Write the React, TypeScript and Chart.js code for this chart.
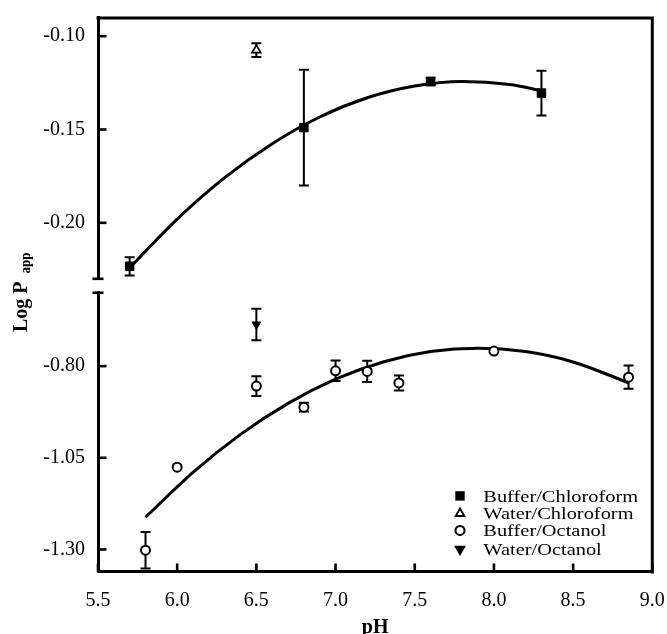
import React, { useEffect, useRef } from 'react';
import { Chart, registerables } from 'chart.js';

Chart.register(...registerables);

// ---------- data ----------
const X_TICKS = [5.5, 6.0, 6.5, 7.0, 7.5, 8.0, 8.5, 9.0];
const TOP_TICKS = [-0.2, -0.15, -0.1];
const BOT_TICKS = [-1.3, -1.05, -0.8];
const X_RANGE = [5.5, 9.0];
const TOP_RANGE = [-0.23, -0.09];
const BOT_RANGE = [-1.36, -0.6];

const LEGEND_LABELS = ['Buffer/Chloroform', 'Water/Chloroform', 'Buffer/Octanol', 'Water/Octanol'];

const BC_PH = [5.7, 6.8, 7.6, 8.3];
const BC_LOGP = [-0.2233, -0.149, -0.1243, -0.1305];
const BC_ERR = [0.0049, 0.031, 0.002, 0.012];

const WC_PH = [6.5];
const WC_LOGP = [-0.1075];
const WC_ERR = [0.0037];

const BO_PH = [5.8, 6.0, 6.5, 6.8, 7.0, 7.2, 7.4, 8.0, 8.85];
const BO_LOGP = [-1.302, -1.0756, -0.8545, -0.912, -0.8127, -0.8145, -0.8459, -0.759, -0.83];
const BO_ERR = [0.05, 0, 0.027, 0.012, 0.028, 0.029, 0.0205, 0, 0.032];

const WO_PH = [6.5];
const WO_LOGP = [-0.6864];
const WO_ERR = [0.0427];

const TOP_FIT_PH = [5.7, 6.0, 6.3, 6.6, 6.9, 7.2, 7.5, 7.8, 8.1, 8.3];
const TOP_FIT_LOGP = [-0.2241, -0.198, -0.1758, -0.1576, -0.1433, -0.133, -0.1267, -0.1243, -0.1259, -0.1292];

const BOT_FIT_PH = [5.8, 6.1, 6.4, 6.7, 7.0, 7.3, 7.6, 7.9, 8.2, 8.5, 8.85];
const BOT_FIT_LOGP = [-1.212, -1.0896, -0.9861, -0.9015, -0.8356, -0.7886, -0.7604, -0.751, -0.7604, -0.7886, -0.8453];

// ---------- style / layout constants ----------
const FONT = "'Liberation Serif', 'Times New Roman', Times, serif";
const W = 667;
const H = 634;
const TOP_FRAC = 0.4717; // top panel share of plot height
const BOT_START_FRAC = 0.4969; // where bottom panel starts
const Y_TICK_LEN = 8.5;
const X_TICK_LEN = 8;

const pts = (xs: number[], ys: number[]) => xs.map((x, i) => ({ x, y: ys[i] }));

function drawMarker(ctx: CanvasRenderingContext2D, kind: string, x: number, y: number) {
  ctx.save();
  ctx.strokeStyle = '#000';
  ctx.fillStyle = '#000';
  ctx.lineWidth = 1.8;
  const r = 5;
  const s = Math.sin((2 * Math.PI) / 3) * r;
  ctx.beginPath();
  if (kind === 'square') {
    ctx.rect(x - 4.7, y - 4.7, 9.4, 9.4);
    ctx.fill();
  } else if (kind === 'triUp') {
    ctx.moveTo(x, y - r);
    ctx.lineTo(x + s, y + r / 2);
    ctx.lineTo(x - s, y + r / 2);
    ctx.closePath();
    ctx.fillStyle = '#fff';
    ctx.fill();
    ctx.stroke();
  } else if (kind === 'circle') {
    ctx.arc(x, y, 4.5, 0, Math.PI * 2);
    ctx.fillStyle = '#fff';
    ctx.fill();
    ctx.lineWidth = 2;
    ctx.stroke();
  } else if (kind === 'triDown') {
    ctx.moveTo(x, y + r);
    ctx.lineTo(x + s, y - r / 2);
    ctx.lineTo(x - s, y - r / 2);
    ctx.closePath();
    ctx.fill();
    ctx.stroke();
  }
  ctx.restore();
}

const zeroPadding = (s: any) => {
  s.paddingTop = 0;
  s.paddingBottom = 0;
  s.paddingLeft = 0;
  s.paddingRight = 0;
};

function drawTickMarks(chart: any) {
  const ctx: CanvasRenderingContext2D = chart.ctx;
  const ca = chart.chartArea;
  const xs = chart.scales.x;
  const t = chart.scales.yTop;
  const b = chart.scales.yBot;
  ctx.save();
  ctx.fillStyle = '#000';
  for (const v of TOP_TICKS) {
    const y = t.getPixelForValue(v);
    ctx.fillRect(ca.left, y - 1.3, Y_TICK_LEN, 2.6);
  }
  for (const v of BOT_TICKS) {
    const y = b.getPixelForValue(v);
    ctx.fillRect(ca.left, y - 1.3, Y_TICK_LEN, 2.6);
  }
  for (const v of X_TICKS) {
    const x = xs.getPixelForValue(v);
    ctx.fillRect(x - 1.3, ca.bottom - X_TICK_LEN, 2.6, X_TICK_LEN);
  }
  // axis-break marks
  ctx.fillRect(ca.left - 5.5, t.bottom - 1.3, 11, 2.6);
  ctx.fillRect(ca.left - 5.5, b.top - 1.3, 11, 2.6);
  ctx.restore();
}

const brokenAxisPlugin = {
  id: 'brokenAxis',
  afterLayout(chart: any) {
    const ca = chart.chartArea;
    const h = ca.bottom - ca.top;
    const t = chart.scales.yTop;
    const b = chart.scales.yBot;
    t.top = ca.top;
    t.bottom = ca.top + h * TOP_FRAC;
    t.height = t.bottom - t.top;
    b.top = ca.top + h * BOT_START_FRAC;
    b.bottom = ca.bottom;
    b.height = b.bottom - b.top;
    [t, b].forEach((s: any) => {
      s.configure();
      s._gridLineItems = null;
      s._labelItems = null;
    });
  },
  beforeDatasetsDraw(chart: any) {
    const ctx: CanvasRenderingContext2D = chart.ctx;
    const ca = chart.chartArea;
    const xs = chart.scales.x;
    chart.data.datasets.forEach((ds: any) => {
      if (!ds.errorBars) return;
      const ys = chart.scales[ds.yAxisID];
      ctx.save();
      ctx.beginPath();
      ctx.rect(ca.left, ys.top, ca.right - ca.left, ys.bottom - ys.top);
      ctx.clip();
      ctx.strokeStyle = '#000';
      ctx.lineWidth = 2;
      ds.data.forEach((p: any, j: number) => {
        const e = ds.errorBars[j];
        if (!e) return;
        const x = xs.getPixelForValue(p.x);
        const y1 = ys.getPixelForValue(p.y + e);
        const y2 = ys.getPixelForValue(p.y - e);
        ctx.beginPath();
        ctx.moveTo(x, y1);
        ctx.lineTo(x, y2);
        ctx.moveTo(x - 5, y1);
        ctx.lineTo(x + 5, y1);
        ctx.moveTo(x - 5, y2);
        ctx.lineTo(x + 5, y2);
        ctx.stroke();
      });
      ctx.restore();
    });
  },
  afterDraw(chart: any) {
    const ctx: CanvasRenderingContext2D = chart.ctx;
    const ca = chart.chartArea;

    // frame top & right
    ctx.save();
    ctx.strokeStyle = '#000';
    ctx.lineWidth = 3;
    ctx.beginPath();
    ctx.moveTo(ca.left - 1.5, ca.top + 0.5);
    ctx.lineTo(ca.right, ca.top + 0.5);
    ctx.moveTo(ca.right, ca.top - 1);
    ctx.lineTo(ca.right, ca.bottom + 2);
    ctx.stroke();
    ctx.restore();

    drawTickMarks(chart);

    // axis titles
    ctx.save();
    ctx.fillStyle = '#000';
    ctx.textBaseline = 'alphabetic';
    ctx.font = `bold 20px ${FONT}`;
    ctx.textAlign = 'center';
    ctx.fillText('pH', (ca.left + ca.right) / 2, 633);
    ctx.translate(27.3, 332);
    ctx.rotate(-Math.PI / 2);
    ctx.scale(1, 1.1);
    ctx.textAlign = 'left';
    ctx.font = `bold 20px ${FONT}`;
    ctx.fillText('Log P', 0, 0);
    const w = ctx.measureText('Log P').width;
    ctx.font = `bold 13px ${FONT}`;
    ctx.fillText('app', w + 8, 2.7);
    ctx.restore();

    // legend
    const kinds = ['square', 'triUp', 'circle', 'triDown'];
    const baselines = [501.7, 519.3, 536.2, 555];
    LEGEND_LABELS.forEach((label, i) => {
      drawMarker(ctx, kinds[i], 460, baselines[i] - 5.8);
      ctx.save();
      ctx.fillStyle = '#000';
      ctx.translate(483.3, baselines[i]);
      ctx.scale(1.16, 1);
      ctx.font = `17.6px ${FONT}`;
      ctx.textAlign = 'left';
      ctx.textBaseline = 'alphabetic';
      ctx.fillText(label, 0, 0);
      ctx.restore();
    });
  },
};

const tickFont = { family: FONT, size: 20 };

function yScale(range: number[], ticks: number[]) {
  return {
    type: 'linear',
    position: 'left',
    stack: 'y',
    stackWeight: 1,
    min: range[0],
    max: range[1],
    afterBuildTicks: (s: any) => {
      s.ticks = ticks.map((v) => ({ value: v }));
    },
    afterFit: (s: any) => {
      s.width = 98;
      zeroPadding(s);
    },
    ticks: {
      callback: (v: any) => Number(v).toFixed(2),
      font: tickFont,
      color: '#000',
      padding: 13,
    },
    grid: { drawOnChartArea: false, drawTicks: false },
    border: { width: 3, color: '#000' },
  };
}

export default function App() {
  const ref = useRef<HTMLCanvasElement | null>(null);
  useEffect(() => {
    if (!ref.current) return;
    const chart = new Chart(ref.current, {
      type: 'scatter',
      data: {
        datasets: [
          { label: LEGEND_LABELS[0], data: pts(BC_PH, BC_LOGP), yAxisID: 'yTop', pointStyle: 'rect', pointRadius: 6, backgroundColor: '#000', borderColor: '#000', borderWidth: 1, errorBars: BC_ERR } as any,
          { label: LEGEND_LABELS[1], data: pts(WC_PH, WC_LOGP), yAxisID: 'yTop', pointStyle: 'triangle', pointRadius: 5, backgroundColor: '#fff', borderColor: '#000', borderWidth: 1.8, errorBars: WC_ERR } as any,
          { label: LEGEND_LABELS[2], data: pts(BO_PH, BO_LOGP), yAxisID: 'yBot', pointStyle: 'circle', pointRadius: 4.5, backgroundColor: '#fff', borderColor: '#000', borderWidth: 2, errorBars: BO_ERR } as any,
          { label: LEGEND_LABELS[3], data: pts(WO_PH, WO_LOGP), yAxisID: 'yBot', pointStyle: 'triangle', rotation: 180, pointRadius: 5, backgroundColor: '#000', borderColor: '#000', borderWidth: 1, errorBars: WO_ERR } as any,
          { label: 'fit top', data: pts(TOP_FIT_PH, TOP_FIT_LOGP), yAxisID: 'yTop', showLine: true, pointRadius: 0, borderColor: '#000', borderWidth: 3, cubicInterpolationMode: 'monotone', fill: false } as any,
          { label: 'fit bottom', data: pts(BOT_FIT_PH, BOT_FIT_LOGP), yAxisID: 'yBot', showLine: true, pointRadius: 0, borderColor: '#000', borderWidth: 3, cubicInterpolationMode: 'monotone', fill: false } as any,
        ],
      },
      options: {
        responsive: false,
        animation: false,
        events: [],
        layout: { padding: { left: 0, top: 17.5, right: 14.7, bottom: 0 } },
        plugins: { legend: { display: false }, tooltip: { enabled: false } },
        scales: {
          x: {
            type: 'linear',
            position: 'bottom',
            min: X_RANGE[0],
            max: X_RANGE[1],
            afterBuildTicks: (s: any) => {
              s.ticks = X_TICKS.map((v) => ({ value: v }));
            },
            afterFit: (s: any) => {
              s.height = 62.5;
              zeroPadding(s);
            },
            ticks: {
              callback: (v: any) => Number(v).toFixed(1),
              font: tickFont,
              color: '#000',
              padding: 17.5,
              maxRotation: 0,
              autoSkip: false,
            },
            grid: { drawOnChartArea: false, drawTicks: false },
            border: { width: 3, color: '#000' },
          },
          yTop: yScale(TOP_RANGE, TOP_TICKS),
          yBot: yScale(BOT_RANGE, BOT_TICKS),
        } as any,
      },
      plugins: [brokenAxisPlugin as any],
    });
    return () => chart.destroy();
  }, []);
  return (
    <canvas ref={ref} width={W} height={H} style={{ position: 'absolute', left: 0, top: 0, width: W, height: H }} />
  );
}
